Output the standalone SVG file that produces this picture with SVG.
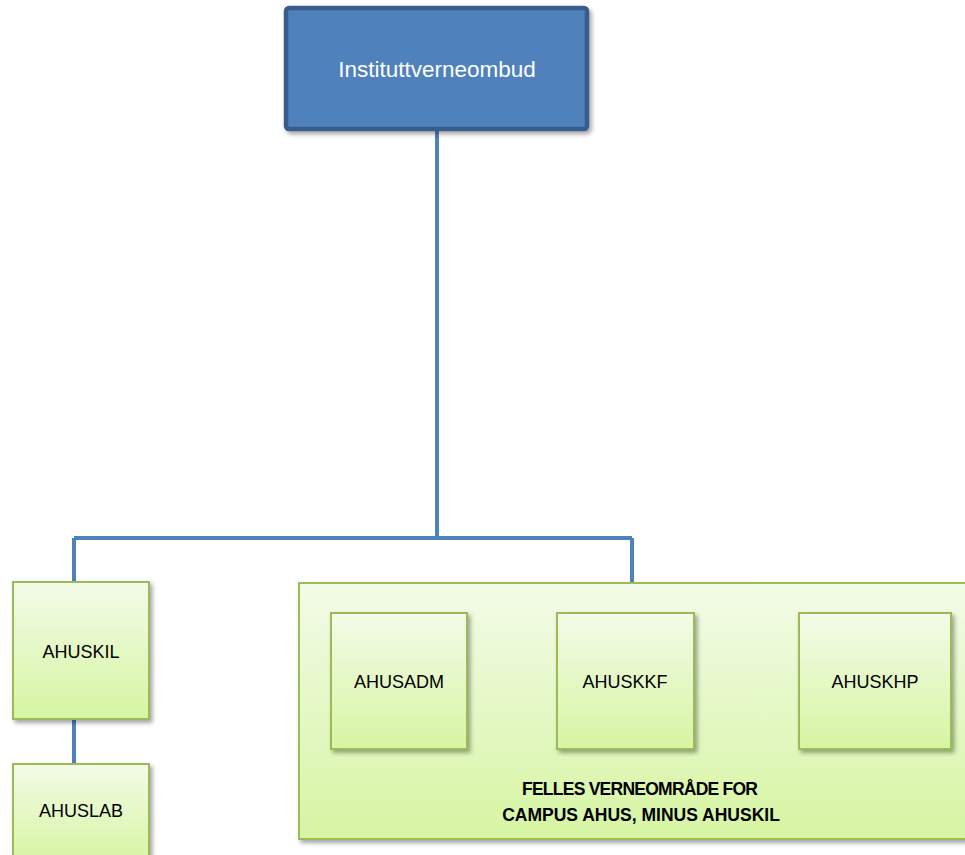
<svg xmlns="http://www.w3.org/2000/svg" width="965" height="855" viewBox="0 0 965 855">
<defs>
<linearGradient id="g" x1="0" y1="0" x2="0" y2="1">
<stop offset="0" stop-color="#F3FBE8"/>
<stop offset="1" stop-color="#D6F5A2"/>
</linearGradient>
<filter id="sh" x="-10%" y="-10%" width="130%" height="130%">
<feDropShadow dx="2.5" dy="3" stdDeviation="2" flood-color="#000" flood-opacity="0.35"/>
</filter>
<style>
.conn{stroke:#4F81BD;stroke-width:4;fill:none}
.gbox{fill:url(#g);stroke:#9BBB59;stroke-width:2;filter:url(#sh)}
.lbl{font-family:"Liberation Sans",Arial,sans-serif;font-size:18px;fill:#000;text-anchor:middle}
.bold{font-family:"Liberation Sans",Arial,sans-serif;font-size:17.5px;font-weight:bold;fill:#000;text-anchor:middle}
</style>
</defs>
<g id="connectors">
<path class="conn" d="M437 131 V538"/>
<path class="conn" d="M74 538 H632"/>
<path class="conn" d="M74 538 V582"/>
<path class="conn" d="M632 538 V583"/>
<path class="conn" d="M74 719 V764"/>
</g>
<g id="instituttverneombud">
<rect x="286" y="8" width="301" height="121" rx="3" fill="#4F81BD" stroke="#385D8A" stroke-width="4.5" filter="url(#sh)"/>
<text x="437" y="77" font-family="'Liberation Sans',Arial,sans-serif" font-size="22.5" fill="#fff" text-anchor="middle">Instituttverneombud</text>
</g>
<g id="ahuskil">
<rect class="gbox" x="13" y="582" width="136" height="137"/>
<text class="lbl" x="81" y="658">AHUSKIL</text>
</g>
<g id="ahuslab">
<rect class="gbox" x="13" y="764" width="136" height="100"/>
<text class="lbl" x="81" y="817">AHUSLAB</text>
</g>
<g id="felles">
<rect class="gbox" x="299" y="583" width="680" height="256"/>
<text class="bold" x="640" y="795" textLength="236">FELLES VERNEOMRÅDE FOR</text>
<text class="bold" x="641" y="821">CAMPUS AHUS, MINUS AHUSKIL</text>
</g>
<g id="ahusadm">
<rect class="gbox" x="331" y="613" width="136" height="136"/>
<text class="lbl" x="399" y="688">AHUSADM</text>
</g>
<g id="ahuskkf">
<rect class="gbox" x="557" y="613" width="137" height="136"/>
<text class="lbl" x="625" y="688">AHUSKKF</text>
</g>
<g id="ahuskhp">
<rect class="gbox" x="799" y="613" width="152" height="136"/>
<text class="lbl" x="875" y="688">AHUSKHP</text>
</g>
</svg>
